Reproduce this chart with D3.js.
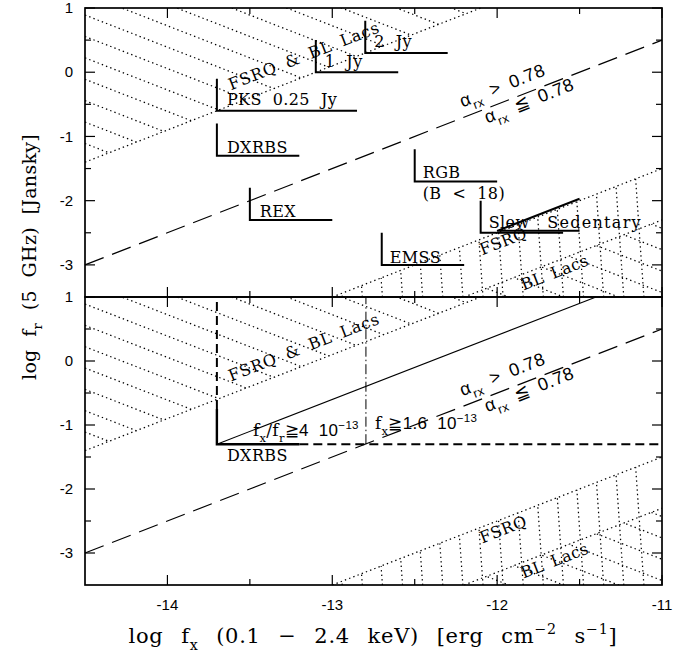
<!DOCTYPE html>
<html><head><meta charset="utf-8">
<script src="https://cdn.jsdelivr.net/npm/d3@7"></script>
<style>
body{margin:0;background:#fff}
svg text{fill:#000;white-space:pre}
</style></head><body>
<svg id="chart" width="686" height="659"></svg>
<script>
// ---- axes (log units) ----
const xDomain = [-14.5, -11];
const yDomain = [-3.5, 1];
const xMajorTicks = [-14, -13, -12, -11];
const xMinorTicks = [-13.5, -12.5, -11.5];
const yMajorTicks = [1, 0, -1, -2, -3];
const yMinorTicks = [0.5, -0.5, -1.5, -2.5];
const xTickLabels = ["-14", "-13", "-12", "-11"];
const yTickLabels = ["1", "0", "-1", "-2", "-3"];

// ---- dividing lines: log fr = log fx + offset ----
const alphaOffset = 11.5;      // alpha_rx = 0.78
const hbvOffset = 13.1;        // FSRQ & BL Lacs region (upper left)
const lbxOffset = 9.5;         // FSRQ region (lower right)
const lblOffset = 8.7;         // BL Lacs below this

// ---- survey flux limits ----
const surveyNames  = ["2 Jy", "1 Jy", "PKS 0.25 Jy", "DXRBS", "REX", "RGB", "EMSS", "Slew"];
const surveyFx     = [-12.8, -13.1, -13.7, -13.7, -13.5, -12.5, -12.7, -12.1];
const surveyFr     = [0.3, 0.0, -0.6, -1.3, -2.3, -1.7, -3.0, -2.5];
const surveyFxEnd  = [-12.3, -12.6, -12.85, -13.2, -13.0, -12.0, -12.2, -11.6];
const surveyFrTop  = [0.8, 0.5, -0.1, -0.8, -1.8, -1.2, -2.5, -2.0];

// Sedentary survey: x-ray limit plus alpha cut
const sedentaryFx = [-12.0, -11.5];
const sedentaryFr = [-2.47, -1.97];

// DXRBS selection (lower panel)
const dxrbsFx = -13.7, dxrbsFr = -1.3;
const dxrbsSolidFrTop = -0.75, dxrbsSolidFxEnd = -13.2;
const ratioOffset = 12.4;                 // fx/fr >= 4e-13
const fxLimit = Math.log10(1.6e-13);      // fx >= 1.6e-13

const svg = d3.select("#chart");
const x = d3.scaleLinear().domain(xDomain).range([85, 662]);
const yUpper = d3.scaleLinear().domain(yDomain).range([297, 8]);
const yLower = d3.scaleLinear().domain(yDomain).range([585, 297]);

const serif = "'DejaVu Serif', serif";
const sans = "'Liberation Sans', Arial, sans-serif";

// text with sub/superscripts
function rich(g, parts, o) {
  const t = g.append("text")
    .attr("x", o.x).attr("y", o.y)
    .attr("text-anchor", o.anchor || "start")
    .style("font-family", o.family || serif)
    .style("font-size", o.size + "px")
    .style("letter-spacing", (o.ls || 0) + "px")
    .style("word-spacing", (o.ws || 0) + "px");
  if (o.rotate !== undefined) t.attr("transform", `rotate(${o.rotate},${o.x},${o.y})`);
  let prev = 0;
  parts.forEach(([s, m, fam]) => {
    const shift = m === "sub" ? 0.34 : m === "sup" ? -0.45 : 0;
    const sp = t.append("tspan")
      .attr("dy", ((shift - prev) * o.size).toFixed(2))
      .style("font-size", (m ? o.size * 0.68 : o.size) + "px")
      .text(s);
    if (fam) sp.style("font-family", fam);
    prev = shift;
  });
  return t;
}

// segment of log fr = log fx + off inside the axes
function offsetLine(off) {
  const a = Math.max(xDomain[0], yDomain[0] - off);
  const b = Math.min(xDomain[1], yDomain[1] - off);
  return [[a, a + off], [b, b + off]];
}

function drawPanel(y, id) {
  const g = svg.append("g");
  const P = (fx, fr) => [x(fx), y(fr)];
  const line = d3.line().x(d => x(d[0])).y(d => y(d[1]));
  const angle = Math.atan2(y(1) - y(0), x(1) - x(0)) * 180 / Math.PI;

  // clip regions
  const defs = svg.append("defs");
  const hbvPoly = [[xDomain[0], yDomain[1]], [xDomain[0], xDomain[0] + hbvOffset], [yDomain[1] - hbvOffset, yDomain[1]]];
  const lbxPoly = [[yDomain[0] - lbxOffset, yDomain[0]], [xDomain[1], xDomain[1] + lbxOffset], [xDomain[1], yDomain[0]]];
  const lblPoly = [[yDomain[0] - lblOffset, yDomain[0]], [xDomain[1], xDomain[1] + lblOffset], [xDomain[1], yDomain[0]]];
  [["hbv", hbvPoly], ["lbx", lbxPoly], ["lbl", lblPoly]].forEach(([n, poly]) => {
    defs.append("clipPath").attr("id", `${n}-${id}`)
      .append("polygon").attr("points", poly.map(p => P(p[0], p[1]).join(",")).join(" "));
  });

  const dotted = s => s.attr("fill", "none").attr("stroke", "#000")
    .attr("stroke-width", 1.25).attr("stroke-dasharray", "1.4 3.1");

  // diagonal hatching, upper-left region
  const hbvHatch = d3.range(-13.61 - 7 / 3, -10.9, 1 / 3);
  g.append("g").attr("clip-path", `url(#hbv-${id})`).selectAll("path")
    .data(hbvHatch).join("path")
    .attr("d", c => line([[xDomain[0], c - xDomain[0]], [xDomain[1], c - xDomain[1]]]))
    .call(dotted);

  // near-vertical hatching, lower-right region
  const vHatch = d3.range(-12.94, -11.0, 0.122);
  g.append("g").attr("clip-path", `url(#lbx-${id})`).selectAll("path")
    .data(vHatch).join("path")
    .attr("d", f => `M${x(f)},${y(yDomain[0])}L${x(f) - 0.07 * (y(yDomain[0]) - y(yDomain[1]))},${y(yDomain[1])}`)
    .call(dotted);

  // diagonal hatching, BL Lacs region
  const lblHatch = d3.range(-14.43 - 4 / 3, -13.2, 1 / 3);
  g.append("g").attr("clip-path", `url(#lbl-${id})`).selectAll("path")
    .data(lblHatch).join("path")
    .attr("d", c => line([[xDomain[0], c - xDomain[0]], [xDomain[1], c - xDomain[1]]]))
    .call(dotted);

  // region boundaries
  [hbvOffset, lbxOffset, lblOffset].forEach(off => {
    g.append("path").attr("d", line(offsetLine(off))).call(dotted);
  });

  // alpha_rx = 0.78
  g.append("path").attr("d", line(offsetLine(alphaOffset)))
    .attr("fill", "none").attr("stroke", "#000").attr("stroke-width", 1.2)
    .attr("stroke-dasharray", "20 9");

  // rotated labels
  const rot = (parts, fx, fr, o) => rich(g, parts, Object.assign({x: x(fx), y: y(fr), rotate: angle}, o));
  rot([["FSRQ & BL Lacs", ""]], -13.615, id === "upper" ? -0.28 : -0.32, {size: 16, ls: 0.9, ws: 4});
  rot([["α", ""], ["rx", "sub"], [" > 0.78", ""]], -12.21, -0.55, {size: 18, family: sans, ls: 0.6, ws: 4});
  rot([["α", ""], ["rx", "sub"], [" ≦ 0.78", ""]], -12.06, -0.80, {size: 18, family: sans, ls: 0.6, ws: 4});
  rot([["FSRQ", ""]], -12.09, -2.85, {size: 16, ls: 0.5});
  rot([["BL Lacs", ""]], -11.84, -3.40, {size: 16, ls: 0.5, ws: 3});

  return {g, line, P};
}

const thick = s => s.attr("fill", "none").attr("stroke", "#000").attr("stroke-width", 2);

// ---------------- upper panel ----------------
const upper = drawPanel(yUpper, "upper");
const labelShift = {"2 Jy": [9, -6], "1 Jy": [9, -5], "PKS 0.25 Jy": [10, -6], "DXRBS": [10, -3],
                    "REX": [10, -3], "RGB": [8, -3], "EMSS": [8, -2], "Slew": [8, -5]};
const surveyText = {"2 Jy": "2  Jy", "1 Jy": "1  Jy", "PKS 0.25 Jy": "PKS  0.25  Jy"};
surveyNames.forEach((name, i) => {
  upper.g.append("path")
    .attr("d", upper.line([[surveyFx[i], surveyFrTop[i]], [surveyFx[i], surveyFr[i]], [surveyFxEnd[i], surveyFr[i]]]))
    .call(thick);
  const [dx, dy] = labelShift[name];
  upper.g.append("text")
    .attr("x", x(surveyFx[i]) + dx).attr("y", yUpper(surveyFr[i]) + dy)
    .style("font-family", serif).style("font-size", "16px").style("letter-spacing", "0.4px")
    .text(surveyText[name] || name);
});
// RGB magnitude limit
upper.g.append("text")
  .attr("x", x(surveyFx[5]) + 8).attr("y", yUpper(surveyFr[5]) + 18)
  .style("font-family", serif).style("font-size", "16px").style("letter-spacing", "0.4px")
  .text("(B  <  18)");
// Sedentary
upper.g.append("path")
  .attr("d", upper.line([[sedentaryFx[1], sedentaryFr[1]], [sedentaryFx[0], sedentaryFr[0]], [sedentaryFx[1], sedentaryFr[0]]]))
  .call(thick);
upper.g.append("text")
  .attr("x", x(sedentaryFx[0]) + 50).attr("y", yUpper(sedentaryFr[0]) - 3)
  .style("font-family", serif).style("font-size", "16px").style("letter-spacing", "1.3px")
  .text("Sedentary");

// ---------------- lower panel ----------------
const lower = drawPanel(yLower, "lower");
// DXRBS limits, solid part
lower.g.append("path")
  .attr("d", lower.line([[dxrbsFx, dxrbsSolidFrTop], [dxrbsFx, dxrbsFr], [dxrbsSolidFxEnd, dxrbsFr]]))
  .call(thick).attr("stroke-width", 2.4);
// extensions, dashed
lower.g.append("path")
  .attr("d", lower.line([[dxrbsFx, dxrbsSolidFrTop], [dxrbsFx, yDomain[1]]]))
  .call(thick).attr("stroke-dasharray", "9 5");
lower.g.append("path")
  .attr("d", lower.line([[dxrbsSolidFxEnd, dxrbsFr], [xDomain[1], dxrbsFr]]))
  .call(thick).attr("stroke-dasharray", "9 5");
// fx/fr limit
lower.g.append("path")
  .attr("d", lower.line([[dxrbsFx, dxrbsFx + ratioOffset], [yDomain[1] - ratioOffset, yDomain[1]]]))
  .attr("fill", "none").attr("stroke", "#000").attr("stroke-width", 1.1);
// fx limit
lower.g.append("path")
  .attr("d", lower.line([[fxLimit, dxrbsFr], [fxLimit, yDomain[1]]]))
  .attr("fill", "none").attr("stroke", "#000").attr("stroke-width", 1)
  .attr("stroke-dasharray", "10 3 1.5 3");
lower.g.append("text")
  .attr("x", x(dxrbsFx) + 10).attr("y", yLower(dxrbsFr) + 17)
  .style("font-family", serif).style("font-size", "16px").style("letter-spacing", "0.4px")
  .text("DXRBS");
rich(lower.g, [["f", ""], ["x", "sub"], ["/f", ""], ["r", "sub"], ["≧", ""], ["4  10", "", sans], ["−13", "sup", sans]],
  {x: x(dxrbsFx) + 36, y: yLower(dxrbsFr) - 8, size: 17, ls: 0.3});
rich(lower.g, [["f", ""], ["x", "sub"], ["≧", ""], ["1.6  10", "", sans], ["−13", "sup", sans]],
  {x: x(fxLimit) + 9, y: yLower(dxrbsFr) - 15, size: 17, ls: 0.3});

// ---------------- frames, ticks, labels ----------------
[yUpper, yLower].forEach((y, k) => {
  const g = svg.append("g");
  const [x0, x1] = x.range();
  const [yb, yt] = y.range();
  const tk = (v, len, axis) => {
    if (axis === "x") {
      g.append("line").attr("x1", x(v)).attr("x2", x(v)).attr("y1", yb).attr("y2", yb - len);
      g.append("line").attr("x1", x(v)).attr("x2", x(v)).attr("y1", yt).attr("y2", yt + len);
    } else {
      g.append("line").attr("x1", x0).attr("x2", x0 + len).attr("y1", y(v)).attr("y2", y(v));
      g.append("line").attr("x1", x1).attr("x2", x1 - len).attr("y1", y(v)).attr("y2", y(v));
    }
  };
  xMajorTicks.forEach(v => tk(v, 10, "x"));
  xMinorTicks.forEach(v => tk(v, 6, "x"));
  yMajorTicks.forEach(v => tk(v, 10, "y"));
  yMinorTicks.forEach(v => tk(v, 6, "y"));
  g.selectAll("line").attr("stroke", "#000").attr("stroke-width", 1.2);
  g.append("rect").attr("x", x0).attr("y", yt).attr("width", x1 - x0).attr("height", yb - yt)
    .attr("fill", "none").attr("stroke", "#000").attr("stroke-width", 1.7);

  g.selectAll("text.yl").data(yMajorTicks).join("text")
    .attr("x", 73).attr("y", d => y(d)).attr("dy", "0.35em")
    .attr("text-anchor", "end")
    .style("font-family", sans).style("font-size", "15px")
    .text((d, i) => yTickLabels[i]);
  if (k === 1) {
    g.selectAll("text.xl").data(xMajorTicks).join("text")
      .attr("x", d => x(d)).attr("y", 610)
      .attr("text-anchor", "middle")
      .style("font-family", sans).style("font-size", "15px")
      .text((d, i) => xTickLabels[i]);
  }
});

// axis titles
rich(svg, [["log  f", ""], ["x", "sub"], ["  (0.1  −  2.4  keV)  [erg  cm", ""], ["−2", "sup"], ["  s", ""], ["−1", "sup"], ["]", ""]],
  {x: 373, y: 643, size: 21, anchor: "middle", ls: 0.7, ws: 1.5});
rich(svg, [["log  f", ""], ["r", "sub"], ["  (5  GHz)  [Jansky]", ""]],
  {x: 36, y: 257, size: 19, anchor: "middle", rotate: -90, ls: 0.3});
</script>
</body></html>
